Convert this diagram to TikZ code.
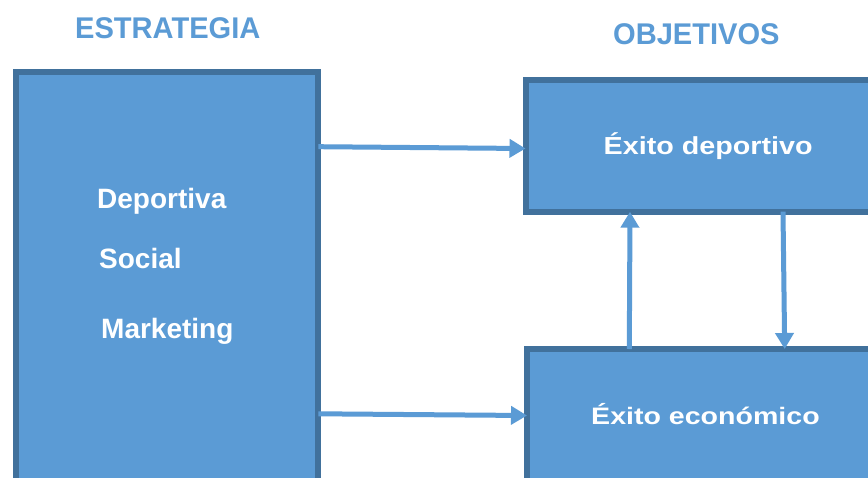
\documentclass[tikz,border=0pt]{standalone}
\usepackage{fontspec}
\setmainfont{Liberation Sans}
\usetikzlibrary{arrows.meta}
\definecolor{boxfill}{HTML}{5B9BD5}
\definecolor{boxline}{HTML}{41719C}
\tikzset{
  bluebox/.style={draw=boxline, fill=boxfill, line width=6pt, inner sep=0pt, outer sep=0pt, rectangle},
  boxtext/.style={anchor=base west, inner sep=0pt, text=white, font=\fontsize{28}{30}\selectfont\bfseries},
  titletext/.style={anchor=base west, inner sep=0pt, text=boxfill, font=\fontsize{28.5}{30}\selectfont\bfseries},
  conn/.style={draw=boxfill, line width=5pt, -{Triangle[length=16pt,width=18pt]}}
}
\begin{document}
\begin{tikzpicture}[x=1pt,y=-1pt]
\useasboundingbox (0,0) rectangle (868,477);
\clip (0,0) rectangle (868,477);
\fill[white] (0,0) rectangle (868,477);
% boxes
\node[bluebox, minimum width=302.8pt, minimum height=447.7pt] (L) at (166.9,296.15) {};
\node[bluebox, minimum width=394.5pt, minimum height=131.4pt] (T) at (722.75,146) {};
\node[bluebox, minimum width=393pt, minimum height=171pt] (B) at (723.5,434.5) {};
% titles
\node[titletext] (t1) at (75,38.3) {\scalebox{1.02}[1.05]{ESTRATEGIA}};
\node[titletext] (t2) at (613,44) {\scalebox{1.02}[1.05]{OBJETIVOS}};
% texts
\node[boxtext] (d) at (97,208.3) {Deportiva};
\node[boxtext] (s) at (99,268.3) {Social};
\node[boxtext] (m) at (101,338.3) {Marketing};
\node[boxtext] (e1) at (603.5,154.3) {\scalebox{1.025}[0.88]{Éxito deportivo}};
\node[boxtext] (e2) at (591,424.3) {\scalebox{1.02}[0.85]{Éxito económico}};
% connectors
\draw[conn] (L.east |- 0,146.7) -- (T.west |- 0,148.5);
\draw[conn] (L.east |- 0,413.8) -- (B.west |- 0,415.5);
\draw[conn] (629.3,0 |- B.north) -- (630,0 |- T.south);
\draw[conn] (783,0 |- T.south) -- (784.7,0 |- B.north);
\end{tikzpicture}
\end{document}
